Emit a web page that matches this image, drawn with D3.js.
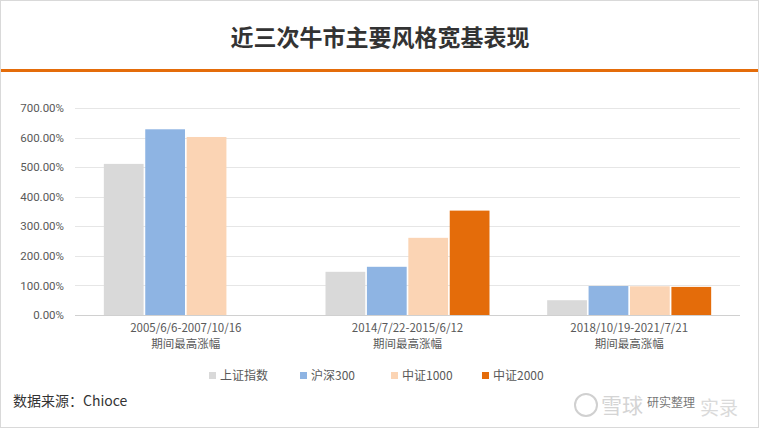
<!DOCTYPE html>
<html>
<head>
<meta charset="utf-8">
<script src="https://cdn.jsdelivr.net/npm/d3@7"></script>
<style>
  body { margin: 0; background: #fff; }
  svg { display: block; font-family: "Noto Sans CJK SC", "Noto Sans", sans-serif; }
</style>
</head>
<body>
<div id="chart"></div>
<script>
// dữ liệu
const categories = ["2005/6/6-2007/10/16", "2014/7/22-2015/6/12", "2018/10/19-2021/7/21"];
const subLabel = "期间最高涨幅";
const seriesNames = ["上证指数", "沪深300", "中证1000", "中证2000"];
const shangzheng = [511, 146, 50];
const hushen300 = [628, 163, 98];
const zhongzheng1000 = [602, 261, 97];
const zhongzheng2000 = [null, 353, 95];
const yTicks = [0, 100, 200, 300, 400, 500, 600, 700];
const colors = ["#d9d9d9", "#8eb4e3", "#fbd4b4", "#e46c0a"];

const seriesValues = [shangzheng, hushen300, zhongzheng1000, zhongzheng2000];

const W = 759, H = 428;
const svg = d3.select("#chart").append("svg")
    .attr("width", W)
    .attr("height", H);

// khung viền
svg.append("rect")
    .attr("x", 0.5).attr("y", 0.5)
    .attr("width", W - 1).attr("height", H - 1)
    .attr("fill", "#fff")
    .attr("stroke", "#d9d9d9");

// tiêu đề
svg.append("text")
    .attr("x", 380)
    .attr("y", 46)
    .attr("text-anchor", "middle")
    .style("font-size", "23px")
    .style("font-weight", "bold")
    .style("fill", "#333")
    .text("近三次牛市主要风格宽基表现");

svg.append("rect")
    .attr("x", 1).attr("y", 69)
    .attr("width", W - 2).attr("height", 3)
    .attr("fill", "#e46c0a");

const plot = { left: 75, right: 740, top: 108, bottom: 315 };

const x = d3.scaleBand()
    .domain(categories)
    .range([plot.left, plot.right]);

const xInner = d3.scaleBand()
    .domain(seriesNames)
    .range([0, 164])
    .paddingInner(0.04);

const y = d3.scaleLinear()
    .domain([0, 700])
    .range([plot.bottom, plot.top]);

// lưới
svg.append("g")
    .selectAll("line")
    .data(yTicks)
    .enter()
    .append("line")
    .attr("x1", plot.left)
    .attr("x2", plot.right)
    .attr("y1", d => Math.round(y(d)) + 0.5)
    .attr("y2", d => Math.round(y(d)) + 0.5)
    .attr("stroke", d => d === 0 ? "#d0d0d0" : "#e6e6e6");

// trục Y
const yAxis = svg.append("g")
    .attr("transform", `translate(${plot.left - 8},0)`)
    .call(d3.axisLeft(y).tickValues(yTicks).tickSize(0).tickFormat(d => d.toFixed(2) + "%"));
yAxis.select(".domain").remove();
yAxis.selectAll("text")
    .style("font-size", "11.5px")
    .style("fill", "#595959")
    .style("font-family", "Roboto, 'Noto Sans CJK SC', sans-serif");

// cột
const groups = svg.append("g")
    .selectAll("g")
    .data(categories)
    .enter()
    .append("g")
    .attr("transform", d => `translate(${x(d) + (x.bandwidth() - 164) / 2},0)`);

groups.selectAll("rect")
    .data((c, i) => seriesNames.map((s, j) => ({ s, v: seriesValues[j][i], color: colors[j] })))
    .enter()
    .filter(d => d.v != null)
    .append("rect")
    .attr("x", d => xInner(d.s))
    .attr("y", d => y(d.v))
    .attr("width", xInner.bandwidth())
    .attr("height", d => y(0) - y(d.v))
    .attr("fill", d => d.color);

// nhãn trục X
const xl = svg.append("g")
    .selectAll("text")
    .data(categories)
    .enter()
    .append("text")
    .attr("x", d => x(d) + x.bandwidth() / 2)
    .attr("text-anchor", "middle")
    .style("font-size", "11.5px")
    .style("fill", "#595959");
xl.append("tspan").attr("x", d => x(d) + x.bandwidth() / 2).attr("y", 332).text(d => d);
xl.append("tspan").attr("x", d => x(d) + x.bandwidth() / 2).attr("y", 348).text(subLabel);

// chú giải
const legendX = [209, 300, 391, 482];
const legend = svg.append("g")
    .selectAll("g")
    .data(seriesNames)
    .enter()
    .append("g")
    .attr("transform", (d, i) => `translate(${legendX[i]},376)`);
legend.append("rect")
    .attr("x", 0).attr("y", -4)
    .attr("width", 7).attr("height", 7)
    .attr("fill", (d, i) => colors[i]);
legend.append("text")
    .attr("x", 11)
    .attr("y", 4)
    .style("font-size", "12px")
    .style("fill", "#595959")
    .text(d => d);

// nguồn
svg.append("text")
    .attr("x", 13)
    .attr("y", 406)
    .style("font-size", "14px")
    .style("fill", "#333")
    .text("数据来源：Chioce");

// watermark
svg.append("circle")
    .attr("cx", 586).attr("cy", 405).attr("r", 11)
    .attr("fill", "none").attr("stroke", "#d0d0d0").attr("stroke-width", 2);
svg.append("text")
    .attr("x", 601).attr("y", 413)
    .style("font-size", "21px")
    .style("fill", "#d4d4d4")
    .text("雪球");
svg.append("text")
    .attr("x", 700).attr("y", 415)
    .style("font-size", "19px")
    .style("fill", "#dadada")
    .text("实录");
svg.append("text")
    .attr("x", 647).attr("y", 407)
    .style("font-size", "12px")
    .style("fill", "#777")
    .text("研实整理");
</script>
</body>
</html>
